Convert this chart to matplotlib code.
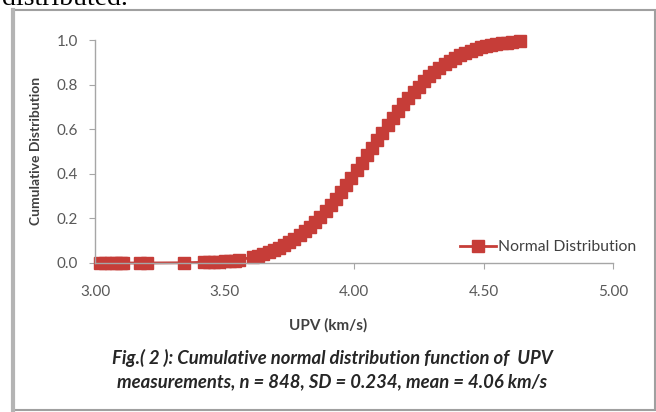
import matplotlib.pyplot as plt
from matplotlib.patches import Rectangle

# UPV values (km/s) and cumulative normal probability
upv = [3.02, 3.04, 3.06, 3.08, 3.10, 3.11, 3.175, 3.20, 3.345,
       3.42, 3.44, 3.46, 3.48, 3.50, 3.52, 3.54, 3.555,
       3.61, 3.63, 3.65, 3.67, 3.69, 3.71, 3.73, 3.75, 3.77, 3.79,
       3.81, 3.83, 3.85, 3.87, 3.89, 3.91, 3.93, 3.95, 3.97, 3.99,
       4.01, 4.03, 4.05, 4.07, 4.09, 4.11, 4.13, 4.15, 4.17, 4.19,
       4.21, 4.23, 4.25, 4.27, 4.29, 4.31, 4.33, 4.35, 4.37, 4.39,
       4.41, 4.43, 4.45, 4.47, 4.49, 4.51, 4.53, 4.55, 4.57, 4.59,
       4.61, 4.64]
cdf = [0.000, 0.000, 0.000, 0.000, 0.000, 0.000, 0.000, 0.000, 0.001,
       0.003, 0.004, 0.005, 0.006, 0.007, 0.009, 0.011, 0.013,
       0.027, 0.033, 0.040, 0.048, 0.057, 0.067, 0.079, 0.093, 0.108, 0.124,
       0.142, 0.163, 0.185, 0.208, 0.234, 0.261, 0.289, 0.319, 0.350, 0.382,
       0.415, 0.449, 0.483, 0.517, 0.551, 0.584, 0.617, 0.650, 0.681, 0.711,
       0.739, 0.766, 0.791, 0.815, 0.837, 0.857, 0.876, 0.892, 0.907, 0.921,
       0.933, 0.943, 0.952, 0.960, 0.967, 0.973, 0.978, 0.982, 0.985, 0.988,
       0.991, 0.995]

xticks = [3.0, 3.5, 4.0, 4.5, 5.0]
yticks = [0.0, 0.2, 0.4, 0.6, 0.8, 1.0]

red = '#c63d38'
grey = '#595959'

plt.rcParams['font.family'] = ['Lato', 'DejaVu Sans']

fig = plt.figure(figsize=(6.56, 4.12), dpi=100)
fig.patch.set_facecolor('white')

# surrounding frame of the figure box
fig.patches.append(Rectangle((13/656, 2/412), 642/656, 400/412, transform=fig.transFigure,
                             fill=False, edgecolor='#a0a0a0', linewidth=1.5))
fig.add_artist(plt.Line2D([13/656, 13/656], [2/412, 402/412], transform=fig.transFigure,
                          color='#b4b4b4', linewidth=3))
fig.text(2/656, 1 - 5/412, 'distributed.', family='Liberation Serif', fontsize=20,
         va='baseline', ha='left', color='black')

ax = fig.add_axes([95/656, 1 - 263/412, 518/656, 223/412])
ax.plot(upv, cdf, '-s', color=red, markersize=8.5, markeredgecolor=red,
        linewidth=2, label='Normal Distribution', clip_on=False)

ax.set_xlim(3, 5)
ax.set_ylim(0, 1)
ax.set_xticks(xticks)
ax.set_xticklabels([f'{v:.2f}' for v in xticks])
ax.set_yticks(yticks)
ax.set_yticklabels([f'{v:.1f}' for v in yticks])

for s in ['top', 'right']:
    ax.spines[s].set_visible(False)
for s in ['left', 'bottom']:
    ax.spines[s].set_color('#a6a6a6')
    ax.spines[s].set_linewidth(1)
ax.tick_params(axis='both', colors='#a6a6a6', labelcolor=grey, labelsize=11, length=4)
ax.tick_params(axis='x', pad=12)
ax.tick_params(axis='y', pad=8)

fig.text(36/656, 1 - 151/412, 'Cumulative Distribution', rotation=90, ha='center', va='center',
         fontsize=10, fontweight='bold', color='#404040')
fig.text(328/656, 1 - 325/412, 'UPV (km/s)', ha='center', va='center',
         fontsize=11, fontweight='bold', color='#404040')

fig.legend(loc='center left', bbox_to_anchor=(460/656, 1 - 247/412), frameon=False,
           borderpad=0, borderaxespad=0, handlelength=2.3, handletextpad=0.1,
           fontsize=11.3, labelcolor='#404040')

fig.text(332/656, 1 - 358/412, 'Fig.( 2 ): Cumulative normal distribution function of  UPV',
         ha='center', va='center', fontsize=13.3, fontweight='bold', style='italic', color='#262626')
fig.text(332/656, 1 - 382/412, 'measurements, n = 848, SD = 0.234, mean = 4.06 km/s',
         ha='center', va='center', fontsize=13.3, fontweight='bold', style='italic', color='#262626')

fig.savefig('out.png', dpi=100)
